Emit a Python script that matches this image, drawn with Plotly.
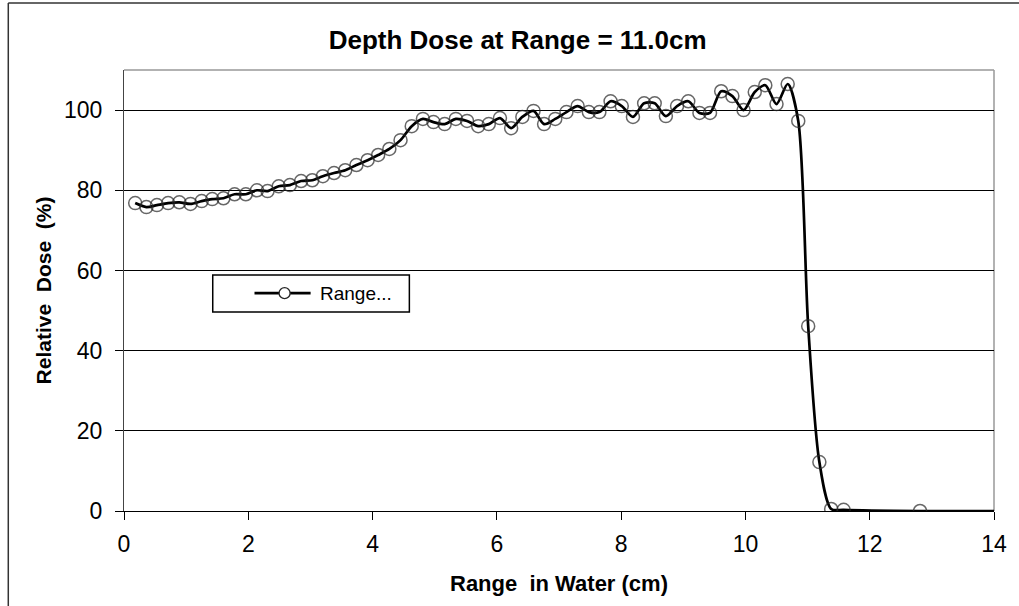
import plotly.graph_objects as go

# Depth in water (cm) and measured relative dose (%)
depth_cm = [
    0.18, 0.36, 0.53, 0.71, 0.89, 1.07, 1.25, 1.42, 1.60, 1.78,
    1.96, 2.14, 2.31, 2.49, 2.67, 2.85, 3.03, 3.20, 3.38, 3.56,
    3.74, 3.92, 4.09, 4.27, 4.45, 4.63, 4.81, 4.98, 5.16, 5.34,
    5.52, 5.70, 5.87, 6.05, 6.23, 6.41, 6.59, 6.76, 6.94, 7.12,
    7.30, 7.48, 7.65, 7.83, 8.01, 8.19, 8.37, 8.54, 8.72, 8.90,
    9.08, 9.26, 9.43, 9.61, 9.79, 9.97, 10.15, 10.32, 10.50, 10.68,
    10.85, 11.01, 11.19, 11.38, 11.58, 12.81, 14.00,
]
relative_dose = [
    76.8, 75.8, 76.3, 76.8, 77.0, 76.6, 77.3, 77.8, 78.0, 79.0,
    79.0, 80.0, 79.8, 81.0, 81.3, 82.3, 82.5, 83.5, 84.3, 85.0,
    86.3, 87.5, 88.8, 90.3, 92.5, 96.0, 97.8, 97.0, 96.5, 97.8,
    97.3, 96.0, 96.5, 98.0, 95.5, 98.3, 99.8, 96.5, 97.8, 99.5,
    101.0, 99.5, 99.5, 102.2, 101.0, 98.3, 101.7, 101.7, 98.5, 101.0,
    102.2, 99.3, 99.3, 104.7, 103.5, 100.0, 104.5, 106.2, 101.5, 106.5,
    97.3, 46.1, 12.2, 0.5, 0.3, 0.0, 0.0,
]

x_ticks = [0, 2, 4, 6, 8, 10, 12, 14]
y_ticks = [0, 20, 40, 60, 80, 100]

series_name = "Range..."

# the closing point at the axis end carries no marker
marker_sizes = [13] * (len(depth_cm) - 1) + [0]

FONT = "Liberation Sans, Arial, sans-serif"
MARKER_COLOR = "#262626"

fig = go.Figure()
fig.add_trace(go.Scatter(
    x=depth_cm,
    y=relative_dose,
    mode="lines+markers",
    name=series_name,
    showlegend=False,
    line=dict(color="black", width=2.7, shape="spline", smoothing=0.8),
    marker=dict(symbol="circle-open", size=marker_sizes, color=MARKER_COLOR,
                line=dict(width=1.5, color=MARKER_COLOR)),
))

fig.update_layout(
    width=1019,
    height=606,
    margin=dict(l=124, r=23, t=70, b=95),
    paper_bgcolor="white",
    plot_bgcolor="white",
    font=dict(family=FONT, color="black"),
    title=dict(
        text="<b>Depth Dose at Range = 11.0cm</b>",
        x=0.508, xanchor="center",
        y=0.934, yanchor="middle",
        font=dict(size=26, family=FONT, color="black"),
    ),
)

fig.update_xaxes(
    range=[0, 14],
    tickvals=x_ticks,
    ticks="outside", ticklen=8, tickwidth=1, tickcolor="black",
    showline=True, linecolor="black", linewidth=1.2,
    showgrid=False, zeroline=False,
    tickfont=dict(size=23, family=FONT),
    ticklabelstandoff=4,
    title=dict(text="<b>Range  in Water (cm)</b>", font=dict(size=22, family=FONT),
               standoff=19),
)
fig.update_yaxes(
    range=[0, 110],
    tickvals=y_ticks,
    ticks="outside", ticklen=8, tickwidth=1, tickcolor="black",
    showline=True, linecolor="#444444", linewidth=1.2,
    showgrid=True, gridcolor="black", gridwidth=1.2,
    zeroline=False,
    tickfont=dict(size=23, family=FONT),
    ticklabelstandoff=8,
    title=dict(text="<b>Relative  Dose  (%)</b>", font=dict(size=21, family=FONT),
               standoff=6),
)

# grey frame along the top and right of the plotting area
fig.add_shape(type="line", xref="paper", yref="paper", x0=0, x1=1, y0=1, y1=1,
              line=dict(color="#999999", width=1.5), layer="below")
fig.add_shape(type="line", xref="paper", yref="paper", x0=1, x1=1, y0=0, y1=1,
              line=dict(color="#999999", width=1.5), layer="below")

# outer chart frame
fig.add_shape(type="line", xref="paper", yref="paper",
              x0=-0.133, x1=-0.133, y0=-0.25, y1=1.152,
              line=dict(color="#333333", width=1.5))
fig.add_shape(type="line", xref="paper", yref="paper",
              x0=-0.133, x1=1.05, y0=1.152, y1=1.152,
              line=dict(color="#333333", width=1.5))

# legend key: framed box with a line sample, an open circle and the series name
key_y = 0.494
fig.add_shape(type="rect", xref="paper", yref="paper",
              x0=0.102, x1=0.328, y0=0.451, y1=0.535,
              line=dict(color="black", width=1.5), fillcolor="white")
fig.add_shape(type="line", xref="paper", yref="paper",
              x0=0.150, x1=0.2145, y0=key_y, y1=key_y,
              line=dict(color="black", width=2.6))
fig.add_shape(type="circle", xref="paper", yref="paper",
              xsizemode="pixel", ysizemode="pixel",
              xanchor=0.1846, yanchor=key_y,
              x0=-5.5, x1=5.5, y0=-5.5, y1=5.5,
              line=dict(color=MARKER_COLOR, width=1.3), fillcolor="white")
fig.add_annotation(xref="paper", yref="paper", x=0.2225, y=key_y,
                   xanchor="left", yanchor="middle", showarrow=False,
                   text=series_name, font=dict(size=19, family=FONT, color="black"))

fig.write_html("out.html")
